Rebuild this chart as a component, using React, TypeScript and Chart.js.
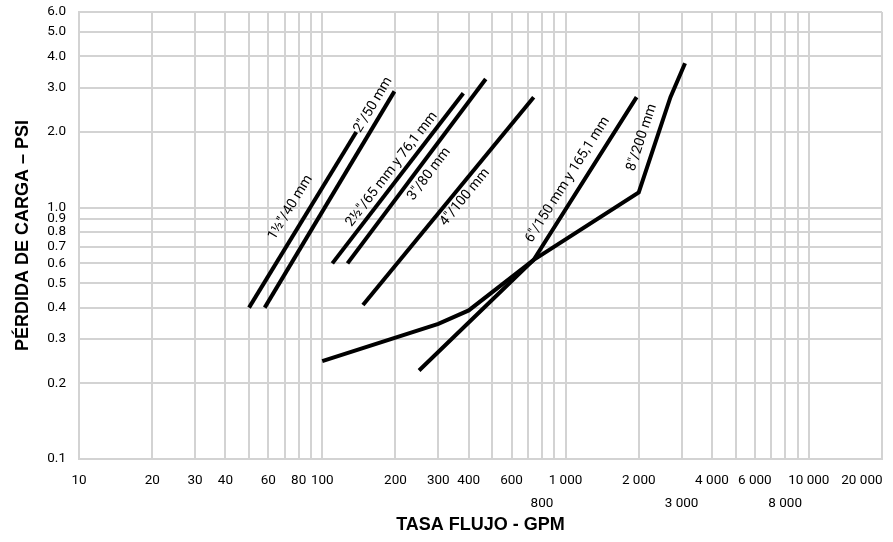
import React, { useEffect, useRef } from 'react';
import { Chart, registerables } from 'chart.js';

Chart.register(...registerables);

const TICKFONT = "Roboto, 'Liberation Sans', sans-serif";
const BOLD = "'Liberation Sans', Arial, sans-serif";
const GRID = '#d3d3d3';

// Axis ranges and tick values
const xMin = 10;
const xMax = 20000;
const yMin = 0.1;
const yMax = 6;
const xGridValues = [10, 20, 30, 40, 50, 60, 70, 80, 90, 100, 200, 300, 400, 500, 600, 700, 800, 900, 1000, 2000, 3000, 4000, 5000, 6000, 7000, 8000, 9000, 10000, 20000];
const xLabelsRow1 = [10, 20, 30, 40, 60, 80, 100, 200, 300, 400, 600, 1000, 2000, 4000, 6000, 10000, 20000];
const xLabelsRow2 = [800, 3000, 8000];
const yGridValues = [0.1, 0.2, 0.3, 0.4, 0.5, 0.6, 0.7, 0.8, 0.9, 1, 2, 3, 4, 5, 6];

// Series (flow GPM, pressure loss PSI)
const flow40 = [50, 138];
const loss40 = [0.4, 2.0];
const flow50 = [58, 198];
const loss50 = [0.4, 2.9];
const flow65 = [110, 380];
const loss65 = [0.6, 2.85];
const flow80 = [127, 470];
const loss80 = [0.6, 3.25];
const flow100 = [147, 740];
const loss100 = [0.41, 2.75];
const flow150 = [250, 740, 1960];
const loss150 = [0.225, 0.62, 2.75];
const flow200 = [100, 300, 400, 740, 2000, 2700, 3100];
const loss200 = [0.245, 0.345, 0.39, 0.62, 1.15, 2.75, 3.75];

const seriesFlows = [flow40, flow50, flow65, flow80, flow100, flow150, flow200];
const seriesLosses = [loss40, loss50, loss65, loss80, loss100, loss150, loss200];

// Line labels: text, series index, segment used for the angle, anchor (flow, loss)
const labelTexts = ['1½"/40 mm', '2"/50 mm', '2½"/65 mm y 76,1 mm', '3"/80 mm', '4"/100 mm', '6"/150 mm y 165,1 mm', '8"/200 mm'];
const labelSeries = [0, 1, 2, 3, 4, 5, 6];
const labelSegments = [0, 0, 0, 0, 0, 1, 4];
const labelFlows = [74, 162, 193, 275, 386, 1020, 2060];
const labelLosses = [1.0, 2.56, 1.42, 1.36, 1.1, 1.29, 1.9];

const fmt = (v: number) => {
  const s = String(v);
  return v >= 1000 ? s.slice(0, -3) + ' ' + s.slice(-3) : s;
};

const lineLabelPlugin = {
  id: 'lineLabels',
  afterDatasetsDraw(chart: any) {
    const ctx = chart.ctx;
    const xs = chart.scales.x;
    const ys = chart.scales.y;
    for (let i = 0; i < labelTexts.length; i++) {
      const si = labelSeries[i];
      const seg = labelSegments[i];
      const fx = seriesFlows[si];
      const ly = seriesLosses[si];
      const x0 = xs.getPixelForValue(fx[seg]);
      const y0 = ys.getPixelForValue(ly[seg]);
      const x1 = xs.getPixelForValue(fx[seg + 1]);
      const y1 = ys.getPixelForValue(ly[seg + 1]);
      const ang = Math.atan2(y1 - y0, x1 - x0);
      const px = xs.getPixelForValue(labelFlows[i]);
      const py = ys.getPixelForValue(labelLosses[i]);
      ctx.save();
      ctx.translate(px, py);
      ctx.rotate(ang);
      ctx.font = `14px ${TICKFONT}`;
      ctx.fillStyle = '#000';
      ctx.textAlign = 'center';
      ctx.textBaseline = 'middle';
      ctx.fillText(labelTexts[i], 0, 0);
      ctx.restore();
    }
  },
};

export default function App() {
  const canvasRef = useRef<HTMLCanvasElement | null>(null);

  useEffect(() => {
    if (!canvasRef.current) return;
    const datasets = seriesFlows.map((fx, si) => ({
      label: labelTexts[si],
      data: fx.map((x, k) => ({ x, y: seriesLosses[si][k] })),
      borderColor: '#000',
      backgroundColor: '#000',
      borderWidth: 4,
      pointRadius: 0,
      showLine: true,
      tension: 0,
      fill: false,
      borderCapStyle: 'butt',
      borderJoinStyle: 'miter',
    }));

    const chart = new Chart(canvasRef.current, {
      type: 'scatter',
      data: { datasets } as any,
      options: {
        responsive: false,
        maintainAspectRatio: false,
        animation: false,
        layout: { padding: { top: 12, right: 11, left: 0, bottom: 0 } },
        plugins: {
          legend: { display: false },
          tooltip: { enabled: false },
        },
        scales: {
          x: {
            type: 'logarithmic',
            min: xMin,
            max: xMax,
            afterBuildTicks: (scale: any) => {
              scale.ticks = xGridValues.map((v) => ({ value: v }));
            },
            afterFit: (scale: any) => {
              scale.height = 83;
              scale.paddingLeft = 0;
              scale.paddingRight = 0;
            },
            grid: { color: GRID, lineWidth: 2, drawTicks: false },
            border: { display: true, color: GRID, width: 2 },
            ticks: {
              autoSkip: false,
              maxRotation: 0,
              minRotation: 0,
              padding: 10,
              color: '#000',
              font: { family: TICKFONT, size: 13.5, lineHeight: '23px' } as any,
              callback: (value: any) => {
                const v = Number(value);
                if (xLabelsRow1.includes(v)) {
                  return v === xMax ? fmt(v) + '            ' : fmt(v);
                }
                if (xLabelsRow2.includes(v)) return ['', fmt(v)];
                return '';
              },
            },
            title: {
              display: true,
              text: 'TASA FLUJO - GPM',
              color: '#000',
              font: { family: BOLD, size: 18, weight: 'bold' },
              padding: { top: 0, bottom: 6 },
            },
          },
          y: {
            type: 'logarithmic',
            min: yMin,
            max: yMax,
            afterBuildTicks: (scale: any) => {
              scale.ticks = yGridValues.map((v) => ({ value: v }));
            },
            afterFit: (scale: any) => {
              scale.width = 79;
              scale.paddingTop = 0;
              scale.paddingBottom = 0;
            },
            grid: { color: GRID, lineWidth: 2, drawTicks: false },
            border: { display: true, color: GRID, width: 2 },
            ticks: {
              autoSkip: false,
              padding: 13,
              color: '#000',
              font: { family: TICKFONT, size: 13.5 },
              callback: (value: any) => Number(value).toFixed(1),
            },
            title: {
              display: true,
              text: 'PÉRDIDA DE CARGA – PSI',
              color: '#000',
              font: { family: BOLD, size: 18, weight: 'bold' },
              padding: { top: 12, bottom: 0 },
            },
          },
        },
      } as any,
      plugins: [lineLabelPlugin],
    });
    return () => chart.destroy();
  }, []);

  return (
    <div style={{ position: 'fixed', left: 0, top: 0, width: 893, height: 542, background: '#fff' }}>
      <canvas ref={canvasRef} width={893} height={542} />
    </div>
  );
}
